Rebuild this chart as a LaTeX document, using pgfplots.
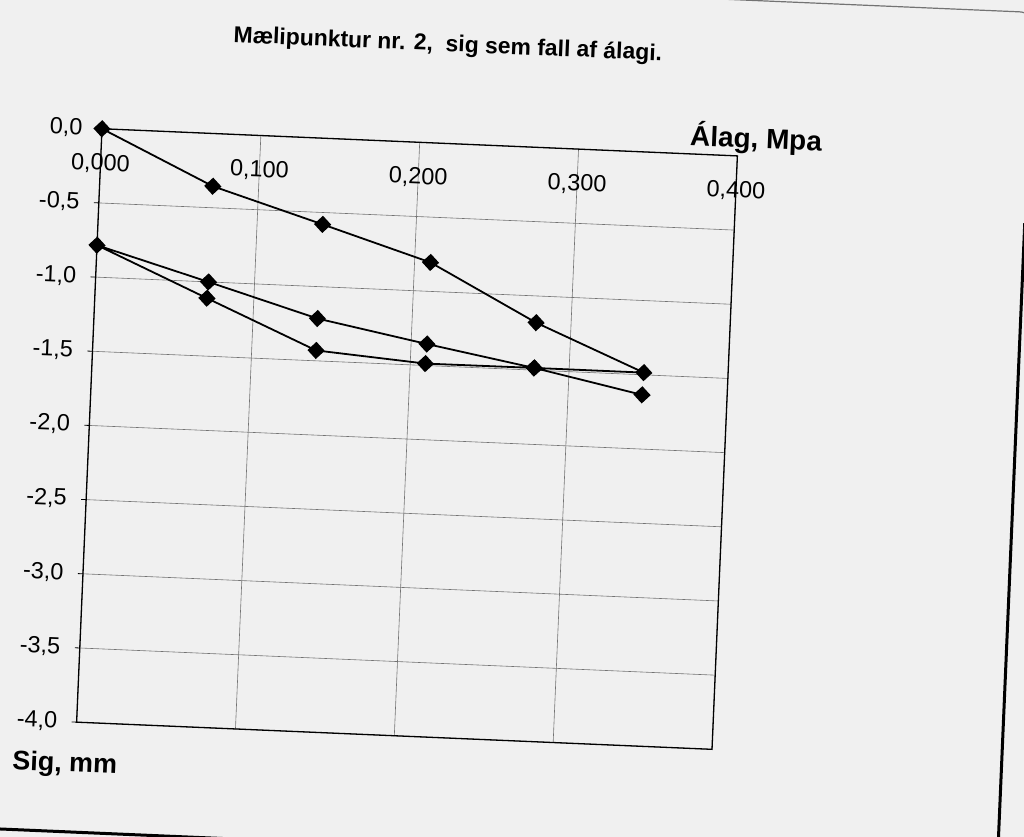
\documentclass[border=0pt]{standalone}
\usepackage{pgfplots}
\pgfplotsset{compat=1.18}
\usepackage{fontspec}
\setmainfont{Liberation Sans}
\definecolor{paper}{RGB}{240,240,240}
\begin{document}
\begin{tikzpicture}[x=1bp,y=1bp]
\useasboundingbox (0,0) rectangle (1024,837);
\fill[paper] (0,0) rectangle (1024,837);
\begin{scope}[rotate around={-2.45:(406,398)}, transform shape]
\draw[line width=3bp] (-30,-9) -- (1015,-9) -- (1015,640);
\draw[black!55, line width=1.2bp, rounded corners=14bp] (1015,630) -- (1015,851) -- (600,851);
\node[font=\fontsize{23}{25}\bfseries\selectfont] at (431,793) {Mælipunktur nr. 2,\ \ sig sem fall af álagi.};
\node[font=\fontsize{28}{30}\bfseries\selectfont] at (743,713) {Álag, Mpa};
\node[font=\fontsize{27}{29}\bfseries\selectfont] at (79,58) {Sig, mm};
\begin{axis}[
  at={(89bp,101bp)}, anchor=south west, scale only axis,
  width=636bp, height=594bp,
  xmin=0, xmax=0.4, ymin=-4, ymax=0,
  xtick={0,0.1,0.2,0.3,0.4},
  xticklabels={{0,000},{0,100},{0,200},{0,300},{0,400}},
  ytick={-4,-3.5,-3,-2.5,-2,-1.5,-1,-0.5,0},
  yticklabels={{-4,0},{-3,5},{-3,0},{-2,5},{-2,0},{-1,5},{-1,0},{-0,5},{0,0}},
  xticklabel pos=upper,
  xtick style={draw=none},
  ytick pos=left, tick align=outside, major tick length=5bp,
  ytick style={black, line width=0.8bp},
  x tick label style={anchor=center, yshift=-40bp, font=\fontsize{23.5}{25}\selectfont},
  y tick label style={font=\fontsize{23.5}{25}\selectfont, xshift=-11bp},
  grid=major, major grid style={black!55, line width=0.6bp},
  axis line style={black, line width=1.3bp},
  clip=false,
]
\addplot[black, line width=1.8bp, mark=square*, mark size=5.2bp, mark options={rotate=45}] coordinates {
(0,0) (0.0712,-0.355) (0.1412,-0.58) (0.2100,-0.805) (0.2780,-1.18) (0.3470,-1.485)
(0.2780,-1.485) (0.2095,-1.487) (0.1405,-1.43) (0.0705,-1.11) (0,-0.785)
(0.0710,-1.0) (0.1405,-1.215) (0.2100,-1.355) (0.2780,-1.485) (0.3465,-1.635)};
\end{axis}
\end{scope}
\end{tikzpicture}
\end{document}
